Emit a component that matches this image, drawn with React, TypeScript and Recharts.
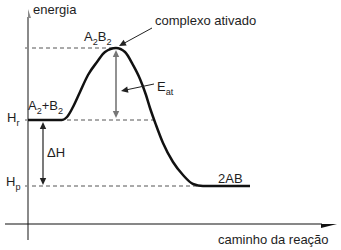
import React from "react"
import { ComposedChart, Line, XAxis, YAxis, ReferenceLine, ReferenceDot } from "recharts"

// perfil de entalpia ao longo do caminho da reação
const caminho = [0, 34, 39, 45, 52, 60, 69, 77, 88, 97, 105, 112, 118, 122, 128, 135, 145, 155, 165, 175, 222]
const entalpia = [104, 104, 107, 117, 132, 149, 162, 172, 176, 172, 159, 145, 129, 116, 99, 81, 62, 49, 40, 38, 38]

// níveis de referência
const H_REAGENTES = 104
const H_PRODUTOS = 38
const E_COMPLEXO = 176
const X_COMPLEXO = 88

const rows = caminho.map((x, i) => ({ x, h: entalpia[i] }))

const FONT = '"Liberation Sans", Arial, Helvetica, sans-serif'
const TEXT = "#1e1e1e"

type Part = [string, boolean?]

function rotulo(parts: Part[], size = 13) {
  return (p: any) => (
    <text x={p.cx} y={p.cy} fontSize={size} fill={TEXT} fontFamily={FONT}>
      {parts.map(([t, sub], i) => {
        const prevSub = i > 0 && parts[i - 1][1]
        const dy = sub ? 3.5 : prevSub ? -3.5 : 0
        return (
          <tspan key={i} dy={dy} fontSize={sub ? size * 0.7 : size}>
            {t}
          </tspan>
        )
      })}
    </text>
  )
}

function head(tx: number, ty: number, ux: number, uy: number, len: number, hw: number, oneSide?: number) {
  const bx = tx - ux * len
  const by = ty - uy * len
  const nx = -uy
  const ny = ux
  if (oneSide) {
    return `${tx},${ty} ${bx + nx * hw * oneSide},${by + ny * hw * oneSide} ${bx},${by}`
  }
  return `${tx},${ty} ${bx + nx * hw},${by + ny * hw} ${bx - nx * hw},${by - ny * hw}`
}

// linha com ponta(s) de seta
function seta(color: string, width: number, ends: "end" | "both", len = 7, hw = 3.2, oneSide?: number) {
  return (p: any) => {
    const { x1, y1, x2, y2 } = p
    const d = Math.hypot(x2 - x1, y2 - y1) || 1
    const ux = (x2 - x1) / d
    const uy = (y2 - y1) / d
    const sx = ends === "both" ? x1 + ux * (len - 1) : x1
    const sy = ends === "both" ? y1 + uy * (len - 1) : y1
    return (
      <g>
        <line x1={sx} y1={sy} x2={x2 - ux * (len - 1)} y2={y2 - uy * (len - 1)} stroke={color} strokeWidth={width} />
        <polygon points={head(x2, y2, ux, uy, len, hw, oneSide)} fill={color} />
        {ends === "both" && <polygon points={head(x1, y1, -ux, -uy, len, hw, oneSide)} fill={color} />}
      </g>
    )
  }
}

const dashed = { stroke: "#555", strokeWidth: 1, strokeDasharray: "4 3" }

export default function App() {
  return (
    <div style={{ position: "absolute", left: 0, top: 0, width: 341, height: 250, background: "#fff" }}>
      <ComposedChart width={341} height={250} data={rows} margin={{ top: 0, right: 0, bottom: 0, left: 0 }}>
        <XAxis dataKey="x" type="number" domain={[-28, 313]} hide />
        <YAxis type="number" domain={[-26, 224]} hide />

        {/* linhas tracejadas dos níveis */}
        <ReferenceLine segment={[{ x: -3, y: E_COMPLEXO }, { x: X_COMPLEXO, y: E_COMPLEXO }]} {...dashed} />
        <ReferenceLine segment={[{ x: -3, y: H_REAGENTES }, { x: 128, y: H_REAGENTES }]} {...dashed} />
        <ReferenceLine segment={[{ x: -3, y: H_PRODUTOS }, { x: 175, y: H_PRODUTOS }]} {...dashed} />

        {/* eixos */}
        <ReferenceLine
          segment={[{ x: 0, y: -16 }, { x: 0, y: 215 }]}
          shape={seta("#8a8a8a", 2, "end", 9, 3, 1)}
        />
        <ReferenceLine
          segment={[{ x: -23, y: 0 }, { x: 309, y: 0 }]}
          shape={seta("#111", 1.2, "end", 16, 4, 1)}
        />

        <Line
          dataKey="h"
          type="monotone"
          stroke="#111"
          strokeWidth={2.5}
          dot={false}
          activeDot={false}
          isAnimationActive={false}
        />

        {/* energia de ativação e variação de entalpia */}
        <ReferenceLine
          segment={[{ x: X_COMPLEXO, y: E_COMPLEXO - 2 }, { x: X_COMPLEXO, y: H_REAGENTES + 2 }]}
          shape={seta("#777", 1.6, "both")}
        />
        <ReferenceLine
          segment={[{ x: 15, y: H_REAGENTES - 2 }, { x: 15, y: H_PRODUTOS + 1 }]}
          shape={seta("#222", 1.2, "both")}
        />

        {/* setas indicadoras */}
        <ReferenceLine segment={[{ x: 124, y: 196 }, { x: 91, y: 178 }]} shape={seta("#222", 1, "end")} />
        <ReferenceLine segment={[{ x: 126, y: 140 }, { x: 93, y: 133 }]} shape={seta("#222", 1, "end")} />

        {/* textos */}
        <ReferenceDot x={5} y={210} r={0} shape={rotulo([["energia"]])} />
        <ReferenceDot x={127} y={199} r={0} shape={rotulo([["complexo ativado"]])} />
        <ReferenceDot x={56} y={183} r={0} shape={rotulo([["A"], ["2", true], ["B"], ["2", true]])} />
        <ReferenceDot x={0} y={114} r={0} shape={rotulo([["A"], ["2", true], ["+B"], ["2", true]])} />
        <ReferenceDot x={-21} y={102} r={0} shape={rotulo([["H"], ["r", true]])} />
        <ReferenceDot x={-22} y={38} r={0} shape={rotulo([["H"], ["p", true]])} />
        <ReferenceDot x={19} y={67} r={0} shape={rotulo([["ΔH"]])} />
        <ReferenceDot x={129} y={133} r={0} shape={rotulo([["E"], ["at", true]])} />
        <ReferenceDot x={190} y={41} r={0} shape={rotulo([["2AB"]])} />
        <ReferenceDot x={190} y={-20} r={0} shape={rotulo([["caminho da reação"]])} />
      </ComposedChart>
    </div>
  )
}
